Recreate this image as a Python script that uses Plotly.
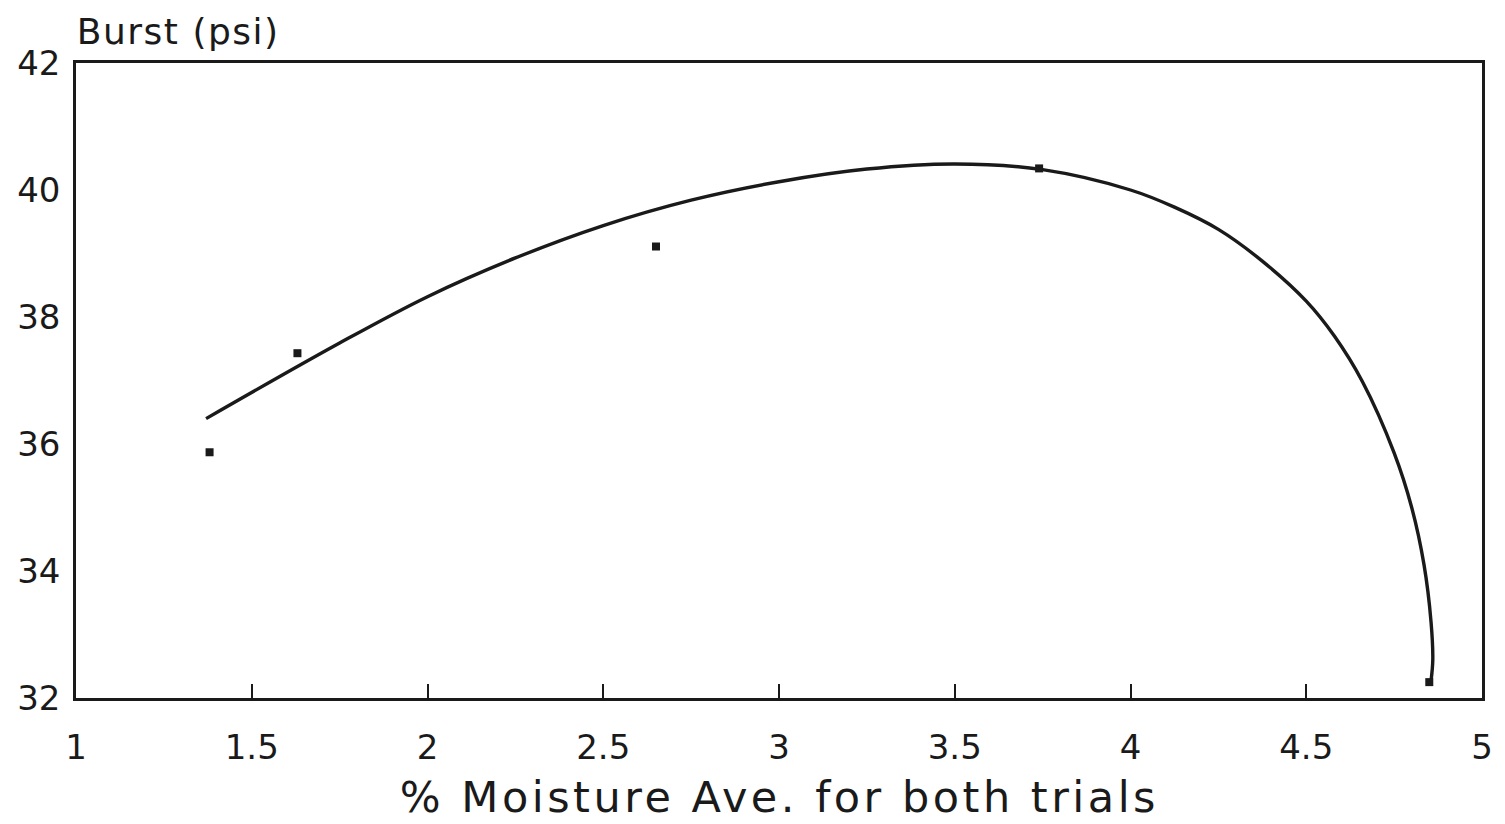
import plotly.graph_objects as go

# Measured points (% moisture, burst psi)
moisture = [1.38, 1.63, 2.65, 3.74, 4.85]
burst = [35.87, 37.43, 39.11, 40.34, 32.25]

# Fitted curve
curve_x = [1.37, 1.75, 2.0, 2.25, 2.5, 2.75, 3.0, 3.25, 3.5, 3.75, 4.0, 4.125, 4.25, 4.375,
           4.5, 4.58, 4.66, 4.75, 4.80, 4.835, 4.855, 4.86, 4.855]
curve_y = [36.40, 37.59, 38.32, 38.93, 39.44, 39.84, 40.13, 40.33, 40.41, 40.32, 40.00, 39.73,
           39.38, 38.88, 38.25, 37.70, 36.98, 35.86, 35.0, 34.1, 33.2, 32.6, 32.27]

x_ticks = [1, 1.5, 2, 2.5, 3, 3.5, 4, 4.5, 5]
x_tick_text = ["1", "1.5", "2", "2.5", "3", "3.5", "4", "4.5", "5"]
y_ticks = [32, 34, 36, 38, 40, 42]

INK = "#1a1a1a"
FONT = "DejaVu Sans"

fig = go.Figure()
fig.add_trace(go.Scatter(x=curve_x, y=curve_y, mode="lines",
                         line=dict(color=INK, width=3.4, shape="spline", smoothing=1.0),
                         hoverinfo="skip", showlegend=False))
fig.add_trace(go.Scatter(x=moisture, y=burst, mode="markers",
                         marker=dict(symbol="square", size=8, color=INK),
                         showlegend=False))

fig.update_layout(
    width=1505, height=824,
    margin=dict(l=76, r=18, t=63, b=126),
    paper_bgcolor="white", plot_bgcolor="white",
    font=dict(family=FONT, color=INK),
    xaxis=dict(range=[1, 5], tickvals=x_ticks, ticktext=x_tick_text,
               showgrid=False, zeroline=False,
               showline=True, mirror=True, linecolor=INK, linewidth=2.5,
               ticks="inside", ticklen=14, tickwidth=2, tickcolor=INK,
               ticklabelstandoff=17,
               tickfont=dict(size=34, family=FONT, color=INK)),
    yaxis=dict(range=[32, 42], tickvals=y_ticks,
               showgrid=False, zeroline=False,
               showline=True, mirror=True, linecolor=INK, linewidth=2.5,
               ticks="", ticklabelstandoff=6,
               tickfont=dict(size=34, family=FONT, color=INK)),
    annotations=[
        dict(text="Burst (psi)", xref="paper", yref="paper", x=0.005, y=1.049,
             xanchor="left", yanchor="middle", showarrow=False,
             font=dict(size=36, family=FONT, color=INK)),
        dict(text="% Moisture Ave. for both trials", xref="paper", yref="paper",
             x=0.5, y=-0.156, xanchor="center", yanchor="middle", showarrow=False,
             font=dict(size=43, family=FONT, color=INK)),
    ],
)

post = """
var gd = document.getElementById('{plot_id}');
function sp(){
  var a = gd.querySelectorAll('.annotation-text');
  if (a.length > 1) { a[0].style.letterSpacing = '1.5px'; a[1].style.letterSpacing = '3.5px'; }
}
sp();
if (gd.on) { gd.on('plotly_afterplot', sp); }
"""

fig.write_html("out.html", post_script=post)
